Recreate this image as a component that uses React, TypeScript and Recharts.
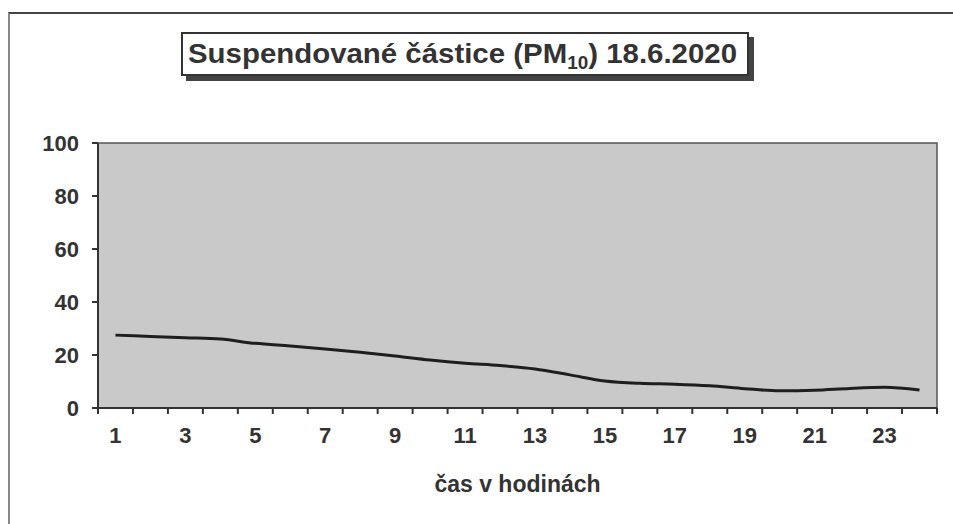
import { CartesianGrid, Line, LineChart, ReferenceArea, XAxis, YAxis } from 'recharts'

const hours = [1, 2, 3, 4, 5, 6, 7, 8, 9, 10, 11, 12, 13, 14, 15, 16, 17, 18, 19, 20, 21, 22, 23, 24]
const pm10 = [27.5, 27, 26.5, 26, 24.4, 23.4, 22.3, 21, 19.6, 18.1, 16.9, 16, 14.7, 12.5, 10.2, 9.3, 9, 8.4, 7.3, 6.5, 6.7, 7.4, 7.8, 6.8]
const hourLabels = [1, 3, 5, 7, 9, 11, 13, 15, 17, 19, 21, 23]
const hourBounds = [0.5, 1.5, 2.5, 3.5, 4.5, 5.5, 6.5, 7.5, 8.5, 9.5, 10.5, 11.5, 12.5, 13.5, 14.5, 15.5, 16.5, 17.5, 18.5, 19.5, 20.5, 21.5, 22.5, 23.5, 24.5]
const yTicks = [0, 20, 40, 60, 80, 100]

const data = hours.map((h, i) => ({ hour: h, value: pm10[i] }))

const font = '"Liberation Sans", Arial, sans-serif'
const tickStyle = { fontSize: 22, fontWeight: 700, fill: '#333', fontFamily: font }

// boundary ticks only: no label, just the tick line
const EmptyTick = () => <g />

export default function App() {
  return (
    <div style={{ position: 'absolute', left: 0, top: 0, width: 953, height: 524, background: '#fff' }}>
      <div
        style={{
          position: 'absolute',
          left: 8,
          top: 12,
          width: 945,
          height: 512,
          borderTop: '2px solid #444',
          borderLeft: '2px solid #888',
        }}
      />
      <div
        style={{
          position: 'absolute',
          left: 181,
          top: 32,
          width: 564,
          height: 40,
          border: '2px solid #333',
          boxShadow: '5px 5px 0 #444',
          background: '#fff',
        }}
      />
      <svg width={953} height={100} style={{ position: 'absolute', left: 0, top: 0 }}>
        <text
          x={188}
          y={63}
          textLength={549}
          lengthAdjust='spacingAndGlyphs'
          style={{ fontFamily: font, fontWeight: 700, fontSize: 28, fill: '#333' }}
        >
          Suspendované částice (PM
          <tspan fontSize={18} dy={6}>10</tspan>
          <tspan dy={-6}>) 18.6.2020</tspan>
        </text>
      </svg>
      <div style={{ position: 'absolute', left: 0, top: 0 }}>
        <LineChart width={953} height={524} data={data} margin={{ top: 143, right: 16, bottom: 0, left: 38 }}>
          <CartesianGrid horizontal={false} vertical={false} fill='#c9c9c9' xAxisId='a' />
          <ReferenceArea xAxisId='a' x1={0.5} x2={24.5} y1={0} y2={100} fill='none' stroke='#555' strokeWidth={1.5} />
          <XAxis
            xAxisId='a'
            dataKey='hour'
            type='number'
            domain={[0.5, 24.5]}
            ticks={hourBounds}
            tick={EmptyTick}
            tickLine={{ stroke: '#333', strokeWidth: 2 }}
            tickSize={6}
            height={8}
            stroke='#333'
            strokeWidth={2}
          />
          <XAxis
            xAxisId='b'
            dataKey='hour'
            type='number'
            domain={[0.5, 24.5]}
            ticks={hourLabels}
            tickLine={false}
            axisLine={false}
            tickMargin={5}
            tick={tickStyle}
            height={108}
            label={{
              value: 'čas v hodinách',
              position: 'insideTop',
              offset: 60,
              style: { fontSize: 23, fontWeight: 700, fill: '#333', fontFamily: font },
            }}
          />
          <YAxis
            domain={[0, 100]}
            ticks={yTicks}
            tickSize={6}
            tickMargin={13}
            tick={tickStyle}
            tickLine={{ stroke: '#333', strokeWidth: 2 }}
            width={60}
            stroke='#333'
            strokeWidth={2}
          />
          <Line
            xAxisId='a'
            dataKey='value'
            type='monotone'
            stroke='#1e1e1e'
            strokeWidth={3}
            dot={false}
            isAnimationActive={false}
          />
        </LineChart>
      </div>
    </div>
  )
}
